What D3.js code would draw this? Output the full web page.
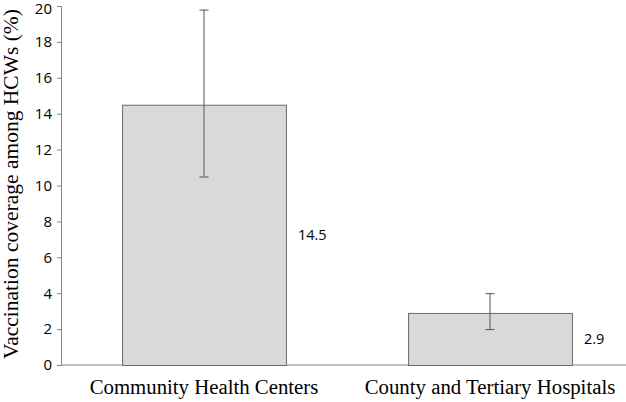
<!DOCTYPE html>
<html>
<head>
<meta charset="utf-8">
<script src="https://cdn.jsdelivr.net/npm/d3@7"></script>
<style>
  body { margin: 0; background: #fff; }
  svg { display: block; }
</style>
</head>
<body>
<svg id="chart" width="626" height="402"></svg>
<script>
// data
var categories = ["Community Health Centers", "County and Tertiary Hospitals"];
var coverage = [14.5, 2.9];
var errLow = [10.5, 2.0];
var errHigh = [19.8, 4.0];
var yTicks = [0, 2, 4, 6, 8, 10, 12, 14, 16, 18, 20];

var svg = d3.select("#chart");

var x = d3.scaleBand()
  .domain(categories)
  .range([61, 633])
  .paddingInner(0.427)
  .paddingOuter(0.2135);

var y = d3.scaleLinear()
  .domain([0, 20])
  .range([365, 6]);

var lineColor = "#868686";

// y axis
var yAxis = svg.append("g")
  .attr("transform", "translate(61,0)")
  .call(d3.axisLeft(y).tickValues(yTicks).tickSize(4).tickPadding(5));

yAxis.select(".domain").attr("stroke", lineColor);
yAxis.selectAll(".tick line").attr("stroke", lineColor);
yAxis.selectAll(".tick text")
  .attr("font-family", "'Open Sans', sans-serif")
  .attr("font-size", 15)
  .attr("fill", "#000");

// keep the top label inside the picture
yAxis.selectAll(".tick text")
  .filter(function (d) { return d === 20; })
  .attr("dy", "0.52em");

// x baseline
svg.append("line")
  .attr("x1", 61).attr("x2", 626)
  .attr("y1", y(0)).attr("y2", y(0))
  .attr("stroke", lineColor);

// bars
var rows = categories.map(function (c, i) {
  return { cat: c, v: coverage[i], lo: errLow[i], hi: errHigh[i] };
});

svg.selectAll("rect.bar")
  .data(rows)
  .enter()
  .append("rect")
  .attr("class", "bar")
  .attr("x", function (d) { return x(d.cat) + 0.5; })
  .attr("y", function (d) { return y(d.v) + 0.5; })
  .attr("width", x.bandwidth())
  .attr("height", function (d) { return y(0) - y(d.v); })
  .attr("fill", "#d9d9d9")
  .attr("stroke", "#6b6b6b");

// error bars
var eb = svg.selectAll("g.err")
  .data(rows)
  .enter()
  .append("g")
  .attr("class", "err")
  .attr("stroke", "#555");

eb.append("line")
  .attr("x1", function (d) { return x(d.cat) + x.bandwidth() / 2; })
  .attr("x2", function (d) { return x(d.cat) + x.bandwidth() / 2; })
  .attr("y1", function (d) { return y(d.lo); })
  .attr("y2", function (d) { return y(d.hi); });

[ "lo", "hi" ].forEach(function (k) {
  eb.append("line")
    .attr("x1", function (d) { return x(d.cat) + x.bandwidth() / 2 - 4.5; })
    .attr("x2", function (d) { return x(d.cat) + x.bandwidth() / 2 + 4.5; })
    .attr("y1", function (d) { return y(d[k]) + 0.5; })
    .attr("y2", function (d) { return y(d[k]) + 0.5; });
});

// value labels, right of the bar at mid height
svg.selectAll("text.val")
  .data(rows)
  .enter()
  .append("text")
  .attr("class", "val")
  .attr("x", function (d) { return x(d.cat) + x.bandwidth() + 12; })
  .attr("y", function (d) { return y(d.v / 2); })
  .attr("dy", "0.35em")
  .attr("font-family", "'Open Sans', sans-serif")
  .attr("font-size", 14.5)
  .text(function (d) { return d.v; });

// category labels
svg.selectAll("text.cat")
  .data(categories)
  .enter()
  .append("text")
  .attr("class", "cat")
  .attr("x", function (d) { return x(d) + x.bandwidth() / 2; })
  .attr("y", 394)
  .attr("text-anchor", "middle")
  .attr("font-family", "'Liberation Serif', serif")
  .attr("font-size", 20.8)
  .text(function (d) { return d; });

// y axis title
svg.append("text")
  .attr("transform", "translate(18,184) rotate(-90)")
  .attr("text-anchor", "middle")
  .attr("font-family", "'Liberation Serif', serif")
  .attr("font-size", 21.5)
  .text("Vaccination coverage among HCWs (%)");
</script>
</body>
</html>
